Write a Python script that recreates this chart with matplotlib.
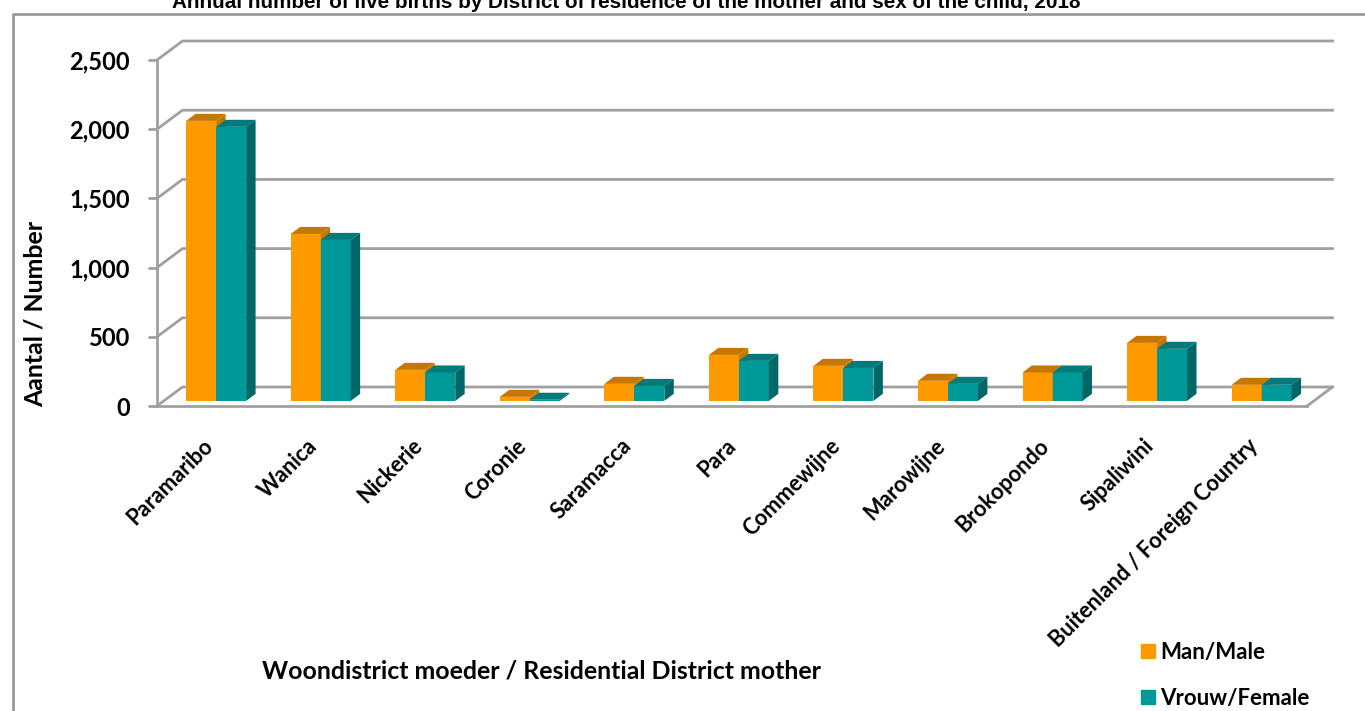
import matplotlib
matplotlib.use('Agg')
import matplotlib.pyplot as plt
from matplotlib.lines import Line2D
from matplotlib.patches import Patch
from matplotlib.transforms import ScaledTranslation

districts = ['Paramaribo', 'Wanica', 'Nickerie', 'Coronie', 'Saramacca', 'Para',
             'Commewijne', 'Marowijne', 'Brokopondo', 'Sipaliwini',
             'Buitenland / Foreign Country']
male = [2023, 1206, 224, 29, 123, 332, 253, 145, 205, 419, 116]
female = [1980, 1163, 205, 8, 108, 289, 238, 123, 205, 376, 116]
y_ticks = [0, 500, 1000, 1500, 2000, 2500]

W, H = 1365, 711
GRAY = '#A0A0A0'
ORANGE, ORANGE_TOP = '#FF9900', '#C67700'
TEAL, TEAL_TOP, TEAL_SIDE = '#009999', '#007A7A', '#006666'

plt.rcParams['font.family'] = ['Lato', 'DejaVu Sans']
plt.rcParams['font.weight'] = 'bold'

fig = plt.figure(figsize=(W / 100, H / 100), dpi=100)
ax = fig.add_axes([157 / W, (H - 406) / H, 1150 / W, 346 / H])
ax.set_xlim(0, len(districts))
ax.set_ylim(0, 2500)

# pixel sizes of the fake 3d depth, turned into data units
px_x = len(districts) / 1150
px_y = 2500 / 346
wall_dx, wall_dy = 25.5 * px_x, 19 * px_y
bar_w = 30 * px_x
front = 0.27   # where the bars stand on the floor
depth = 0.37   # how deep they are


def draw_bar(x, value, col, top_col, side_col):
    x0 = x + front * wall_dx
    y0 = front * wall_dy
    dx, dy = depth * wall_dx, depth * wall_dy
    ax.bar(x0, value, bar_w, bottom=y0, align='edge', color=col, linewidth=0, zorder=3)
    y1 = y0 + value
    ax.fill([x0, x0 + bar_w, x0 + bar_w + dx, x0 + dx],
            [y1, y1, y1 + dy, y1 + dy], color=top_col, lw=0, zorder=3, clip_on=False)
    ax.fill([x0 + bar_w, x0 + bar_w + dx, x0 + bar_w + dx, x0 + bar_w],
            [y0, y0 + dy, y1 + dy, y1], color=side_col, lw=0, zorder=3, clip_on=False)


# back wall lines and the diagonals on the side wall
for v in y_ticks:
    ax.plot([0, wall_dx, len(districts) + wall_dx], [v, v + wall_dy, v + wall_dy],
            color=GRAY, lw=2, clip_on=False, zorder=1, solid_joinstyle='miter')
ax.plot([len(districts), len(districts) + wall_dx], [0, wall_dy],
        color=GRAY, lw=2, clip_on=False, zorder=1)

for i in range(len(districts)):
    center = i + 0.5
    draw_bar(center - bar_w, male[i], ORANGE, ORANGE_TOP, ORANGE_TOP)
    draw_bar(center, female[i], TEAL, TEAL_TOP, TEAL_SIDE)

for side in ['top', 'right']:
    ax.spines[side].set_visible(False)
for side in ['left', 'bottom']:
    ax.spines[side].set_color(GRAY)
    ax.spines[side].set_linewidth(2)
ax.patch.set_alpha(0)

ax.set_yticks(y_ticks)
ax.set_yticklabels([f'{v:,}' for v in y_ticks], fontsize=17, fontweight='bold')
ax.tick_params(axis='y', length=6.5, width=2, color=GRAY, pad=13)
ax.set_xticks([i + 0.5 for i in range(len(districts))])
ax.set_xticklabels(districts, rotation=45, ha='right', va='top', rotation_mode='anchor',
                   fontsize=15.7, fontweight='bold')
ax.tick_params(axis='x', length=0, pad=21)
shift = ScaledTranslation(-7 / 100, 0, fig.dpi_scale_trans)
for lab in ax.get_xticklabels():
    lab.set_transform(lab.get_transform() + shift)

# chart border runs off the picture on the right and bottom
fig.add_artist(Line2D([13 / W, 13 / W, 1], [0, (H - 14) / H, (H - 14) / H], color='#999999', lw=2))

fig.text(626 / W, (H - 8) / H, 'Annual number of live births by District of residence of the mother and sex of the child, 2018',
         family='Liberation Sans', fontweight='bold', fontsize=14.85, ha='center', va='baseline')
fig.text(35 / W, (H - 314) / H, 'Aantal / Number', rotation=90, fontsize=17.9,
         ha='center', va='center', fontweight='bold')
fig.text(541 / W, (H - 671) / H, 'Woondistrict moeder / Residential District mother',
         fontsize=17.9, ha='center', va='center', fontweight='bold')

handles = [Patch(color=ORANGE, label='Man/Male'), Patch(color=TEAL, label='Vrouw/Female')]
fig.legend(handles=handles, loc='upper left', bbox_to_anchor=(1141 / W, (H - 642) / H),
           frameon=False, fontsize=16, handlelength=0.63, handleheight=0.63,
           handletextpad=0.23, labelspacing=1.12, borderpad=0, borderaxespad=0)

fig.savefig('out.png', dpi=100)
